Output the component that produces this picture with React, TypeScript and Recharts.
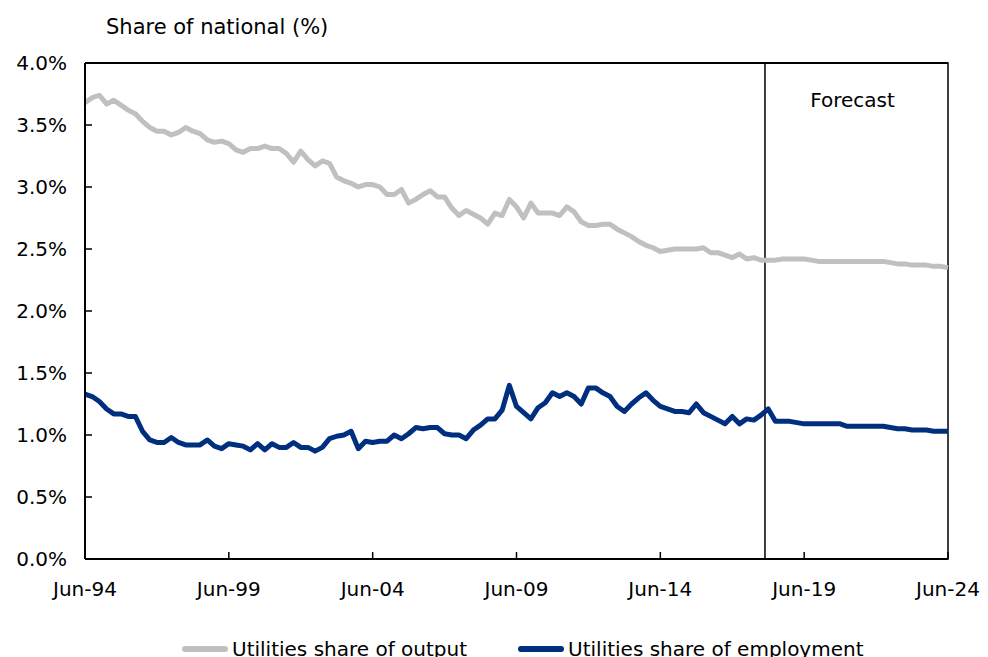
import React from 'react';
import {
  LineChart, Line, XAxis, YAxis, ReferenceLine, ReferenceArea, Legend,
} from 'recharts';

// quarterly, Jun-94 .. Jun-24 (121 quarters); values are % of national
const outputShare = [
  3.68, 3.72, 3.74, 3.67, 3.70, 3.66, 3.62, 3.59, 3.53, 3.48, 3.45, 3.45, 3.42, 3.44, 3.48, 3.45,
  3.43, 3.38, 3.36, 3.37, 3.35, 3.30, 3.28, 3.31, 3.31, 3.33, 3.31, 3.31, 3.27, 3.20, 3.29,
  3.22, 3.17, 3.21, 3.19, 3.08, 3.05, 3.03, 3.00, 3.02, 3.02, 3.00, 2.94, 2.94, 2.98, 2.87,
  2.90, 2.94, 2.97, 2.92, 2.92, 2.83, 2.77, 2.81, 2.78, 2.75, 2.70, 2.79, 2.77, 2.90, 2.84,
  2.75, 2.87, 2.79, 2.79, 2.79, 2.77, 2.84, 2.80, 2.72, 2.69, 2.69, 2.70, 2.70, 2.66, 2.63,
  2.60, 2.56, 2.53, 2.51, 2.48, 2.49, 2.50, 2.50, 2.50, 2.50, 2.51, 2.47, 2.47, 2.45, 2.43,
  2.46, 2.42, 2.43, 2.41, 2.41,
  2.41, 2.42, 2.42, 2.42, 2.42, 2.41, 2.40, 2.40, 2.40, 2.40, 2.40, 2.40, 2.40, 2.40, 2.40,
  2.40, 2.39, 2.38, 2.38, 2.37, 2.37, 2.37, 2.36, 2.36, 2.35,
];

const employmentShare = [
  1.33, 1.31, 1.27, 1.21, 1.17, 1.17, 1.15, 1.15, 1.03, 0.96, 0.94, 0.94, 0.98, 0.94, 0.92, 0.92,
  0.92, 0.96, 0.91, 0.89, 0.93, 0.92, 0.91, 0.88, 0.93, 0.88, 0.93, 0.90, 0.90, 0.94, 0.90,
  0.90, 0.87, 0.90, 0.97, 0.99, 1.00, 1.03, 0.89, 0.95, 0.94, 0.95, 0.95, 1.00, 0.97, 1.01,
  1.06, 1.05, 1.06,
  1.06, 1.01, 1.00, 1.00, 0.97, 1.04, 1.08, 1.13, 1.13, 1.20, 1.40, 1.23, 1.18, 1.13, 1.22,
  1.26, 1.34, 1.31, 1.34, 1.31, 1.25, 1.38, 1.38, 1.34, 1.31, 1.23, 1.19, 1.25, 1.30, 1.34,
  1.28, 1.23, 1.21, 1.19, 1.19, 1.18, 1.25, 1.18, 1.15, 1.12, 1.09, 1.15, 1.09, 1.13, 1.12,
  1.16, 1.21, 1.11,
  1.11, 1.11, 1.10, 1.09, 1.09, 1.09, 1.09, 1.09, 1.09, 1.07, 1.07, 1.07, 1.07, 1.07, 1.07,
  1.06, 1.05, 1.05, 1.04, 1.04, 1.04, 1.03, 1.03, 1.03,
];

const tickLabels = ['Jun-94', 'Jun-99', 'Jun-04', 'Jun-09', 'Jun-14', 'Jun-19', 'Jun-24'];
const xTicks = [0, 20, 40, 60, 80, 100, 120];
const yTicks = [0, 0.5, 1, 1.5, 2, 2.5, 3, 3.5, 4];
// forecast period starts between Dec-17 and Mar-18
const forecastStart = 94.55;
const lastQuarter = 120;

const data = outputShare.map((v, i) => ({ q: i, output: v, employment: employmentShare[i] }));

const GREY = '#bfc0bf';
const BLUE = '#002f7f';
const FONT = '"DejaVu Sans", Verdana, sans-serif';

function LegendBox() {
  const item = (color: string, text: string, ml: number) => (
    <div style={{ display: 'flex', alignItems: 'center', marginLeft: ml }}>
      <span style={{ display: 'inline-block', width: 46, height: 6, borderRadius: 3, background: color }} />
      <span style={{ marginLeft: 4 }}>{text}</span>
    </div>
  );
  return (
    <div style={{ display: 'flex', height: 30, alignItems: 'center', fontFamily: FONT, fontSize: 20, color: '#000' }}>
      {item(GREY, 'Utilities share of output', 174)}
      {item(BLUE, 'Utilities share of employment', 51)}
    </div>
  );
}

export default function App() {
  return (
    <div style={{ position: 'relative', width: 980, height: 649, overflow: 'hidden', fontFamily: FONT }}>
      <div style={{ position: 'absolute', left: 98, top: 7, fontSize: 21, color: '#000', whiteSpace: 'nowrap' }}>
        Share of national (%)
      </div>
      <LineChart width={980} height={670} data={data} margin={{ top: 55, right: 40, left: 0, bottom: 14 }}>
        <XAxis
          dataKey="q"
          type="number"
          domain={[0, lastQuarter]}
          ticks={xTicks}
          tickFormatter={(v: number) => tickLabels[xTicks.indexOf(v)]}
          height={75}
          tickSize={-7}
          tickMargin={30}
          interval={0}
          axisLine={{ stroke: '#000', strokeWidth: 2 }}
          tickLine={{ stroke: '#000', strokeWidth: 1.5 }}
          tick={{ fill: '#000', fontSize: 20, fontFamily: FONT }}
        />
        <YAxis
          domain={[0, 4]}
          ticks={yTicks}
          width={77}
          tickSize={-7}
          tickMargin={25}
          interval={0}
          tickFormatter={(v: number) => `${v.toFixed(1)}%`}
          axisLine={{ stroke: '#000', strokeWidth: 2 }}
          tickLine={{ stroke: '#000', strokeWidth: 1.5 }}
          tick={{ fill: '#000', fontSize: 20, fontFamily: FONT }}
        />
        <ReferenceLine y={4} stroke="#000" strokeWidth={2} />
        <ReferenceArea
          x1={forecastStart}
          x2={lastQuarter}
          y1={0}
          y2={4}
          fill="none"
          stroke="#000"
          strokeWidth={1.5}
          label={{ value: 'Forecast', position: 'insideTop', offset: 30, dx: -4, fill: '#000', fontSize: 20, fontFamily: FONT }}
        />
        <Line
          dataKey="output"
          name="Utilities share of output"
          stroke={GREY}
          strokeWidth={5}
          strokeLinejoin="round"
          dot={false}
          isAnimationActive={false}
        />
        <Line
          dataKey="employment"
          name="Utilities share of employment"
          stroke={BLUE}
          strokeWidth={5}
          strokeLinejoin="round"
          dot={false}
          isAnimationActive={false}
        />
        <Legend verticalAlign="bottom" wrapperStyle={{ left: 0, width: 980 }} content={() => <LegendBox />} />
      </LineChart>
    </div>
  );
}
